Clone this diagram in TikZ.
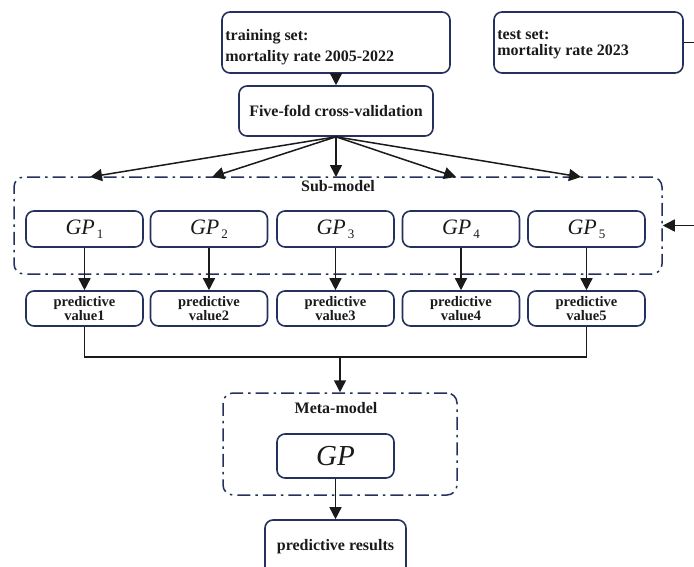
\documentclass[tikz,border=0pt]{standalone}
\usepackage{fontspec}
\setmainfont{Liberation Serif}
\usetikzlibrary{arrows.meta,calc}
\definecolor{navy}{HTML}{24305E}
\definecolor{ink}{HTML}{1A1A1A}
\newcommand\gpsub[1]{{\fontsize{22}{22}\selectfont\itshape GP}\kern2pt\raisebox{-4pt}{\fontsize{13}{13}\selectfont #1}}
\begin{document}
\begin{tikzpicture}[x=1pt,y=-1pt,
  box/.style={draw=navy, line width=1.6pt, rounded corners=8pt, inner sep=0pt, text=ink},
  grp/.style={draw=navy, line width=1.5pt, rounded corners=10pt, dash pattern=on 13pt off 5pt on 2.5pt off 5pt, inner sep=0pt},
  arr/.style={draw=ink, line width=1.5pt, -{Triangle[length=12pt,width=12pt]}},
  ln/.style={draw=ink, line width=1.5pt},
  lbl/.style={font=\fontsize{16}{21}\selectfont\bfseries, inner sep=0pt, text=ink},
  small/.style={font=\fontsize{14.5}{14}\selectfont\bfseries, align=center},
  gpbox/.style={box, minimum width=117pt, minimum height=36pt},
  pvbox/.style={box, small, minimum width=117pt, minimum height=35pt},
]
\useasboundingbox (0,0) rectangle (694,566);
\clip (0,0) rectangle (694,566);

% top boxes
\node[box, minimum width=228pt, minimum height=61pt] (train) at (336,42.5) {};
\node[lbl, anchor=west, align=left] (traintxt) at ($(train.west)+(4,5)$) {training set:\\mortality rate 2005-2022};
\node[box, minimum width=189pt, minimum height=61pt] (test) at (588.5,42.5) {};
\node[lbl, anchor=west, align=left, font=\fontsize{16}{16.5}\selectfont\bfseries] (testtxt) at ($(test.west)+(4,2)$) {test set:\\mortality rate 2023};
\node[box, lbl, minimum width=194pt, minimum height=50pt] (cv) at (336,111) {Five-fold cross-validation};

% sub-model group
\node[grp, minimum width=648pt, minimum height=97pt] (sub) at (338,225.5) {};
\node[lbl] (sublbl) at (338,186) {Sub-model};

\foreach \i/\x in {1/84.5,2/209,3/335.5,4/461,5/586.5}{
  \node[gpbox] (gp\i) at (\x,229) {\gpsub{\i}};
  \node[pvbox] (pv\i) at (\x,308.5) {predictive\\value\i};
  \draw[arr] (gp\i.south) -- (pv\i.north);
}

% fan-out arrows
\coordinate (t1) at (90,177);
\coordinate (t2) at (212,177);
\coordinate (t3) at (336,177);
\coordinate (t4) at (456,177);
\coordinate (t5) at (581,177);
\foreach \i in {1,...,5}{\draw[arr] (cv.south) -- (t\i);}

\draw[arr] (train.south) -- (cv.north);

% test set to sub-model
\draw[arr] (test.east) -| (700,225.5) -- (sub.east);

% merge
\coordinate (mj) at (340,357);
\draw[ln] (pv1.south) -- (pv1.south |- mj) -- (pv5.south |- mj) -- (pv5.south);

% meta-model
\node[grp, minimum width=234pt, minimum height=102pt] (meta) at (340,444) {};
\node[lbl] (metalbl) at (336,408) {Meta-model};
\node[box, minimum width=117pt, minimum height=44pt] (gpm) at (335.5,456) {{\fontsize{29}{29}\selectfont\itshape GP}};
\draw[arr] (mj) -- (meta.north);

\node[box, lbl, minimum width=141pt, minimum height=70pt] (res) at (335.5,555) {};
\node[lbl] (restxt) at (335.5,547) {predictive results};
\draw[arr] (gpm.south) -- (res.north);
\end{tikzpicture}
\end{document}
